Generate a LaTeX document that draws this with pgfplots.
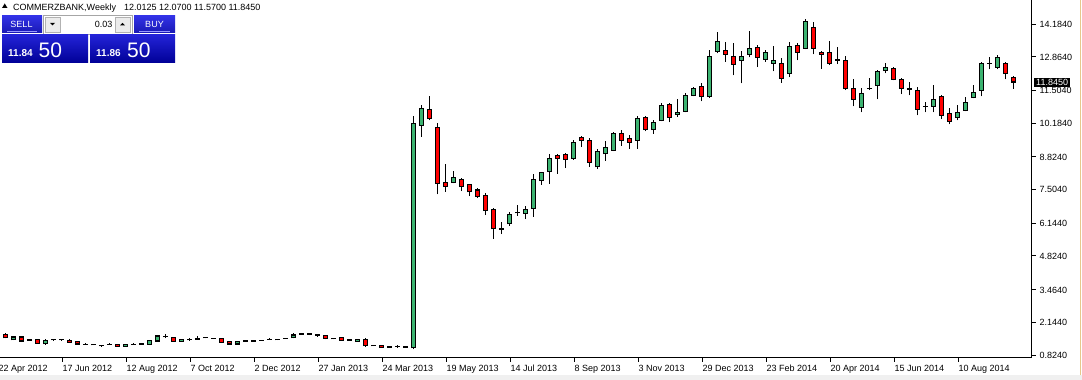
\documentclass[border=0pt]{standalone}
\usepackage{fontspec}
\setmainfont{Liberation Sans}
\usepackage{pgfplots}
\usepackage{pgfplotstable}
\pgfplotsset{compat=1.18}
\definecolor{cgreen}{RGB}{60,179,113}
\definecolor{cred}{RGB}{255,0,0}
\definecolor{btntop}{RGB}{50,50,230}
\definecolor{btnbot}{RGB}{25,25,180}
\definecolor{pantop}{RGB}{35,35,215}
\definecolor{panbot}{RGB}{0,0,150}
\definecolor{edge}{RGB}{230,200,140}

\pgfplotstableread{
j O H L C
-1 1.66 1.69 1.63 1.66
0 1.66 1.70 1.50 1.52
1 1.44 1.57 1.42 1.55
2 1.55 1.57 1.34 1.39
3 1.42 1.47 1.40 1.43
4 1.43 1.45 1.28 1.30
5 1.28 1.45 1.24 1.40
6 1.44 1.48 1.40 1.45
7 1.45 1.48 1.40 1.44
8 1.42 1.45 1.30 1.34
9 1.36 1.37 1.25 1.27
10 1.26 1.29 1.23 1.26
11 1.24 1.26 1.22 1.24
12 1.20 1.22 1.16 1.20
13 1.26 1.29 1.23 1.26
14 1.26 1.28 1.17 1.18
15 1.18 1.28 1.17 1.26
16 1.26 1.30 1.23 1.26
17 1.27 1.29 1.24 1.27
18 1.26 1.41 1.22 1.39
19 1.39 1.62 1.37 1.59
20 1.56 1.66 1.50 1.56
21 1.54 1.56 1.36 1.38
22 1.38 1.47 1.37 1.46
23 1.44 1.50 1.40 1.44
24 1.47 1.60 1.45 1.47
25 1.52 1.56 1.49 1.52
26 1.50 1.53 1.46 1.50
27 1.50 1.52 1.30 1.34
28 1.36 1.38 1.25 1.27
29 1.27 1.38 1.25 1.36
30 1.39 1.41 1.37 1.39
31 1.39 1.42 1.36 1.39
32 1.42 1.44 1.39 1.42
33 1.46 1.50 1.44 1.46
34 1.44 1.46 1.42 1.44
35 1.50 1.52 1.48 1.50
36 1.52 1.72 1.50 1.63
37 1.67 1.69 1.64 1.67
38 1.67 1.69 1.63 1.67
39 1.63 1.65 1.57 1.63
40 1.62 1.64 1.45 1.50
41 1.48 1.52 1.45 1.48
42 1.51 1.53 1.40 1.42
43 1.43 1.46 1.40 1.43
44 1.39 1.48 1.38 1.46
45 1.46 1.50 1.14 1.20
46 1.20 1.22 1.18 1.20
47 1.21 1.23 1.12 1.13
48 1.15 1.17 1.13 1.15
49 1.17 1.21 1.11 1.17
50 1.15 1.17 1.13 1.15
51 1.12 10.47 1.05 10.18
52 10.10 10.91 9.63 10.78
53 10.74 11.28 10.29 10.38
54 10.01 10.18 7.31 7.75
55 7.79 8.52 7.41 7.63
56 7.79 8.25 7.75 8.00
57 7.92 7.96 7.44 7.62
58 7.69 7.73 7.24 7.41
59 7.48 7.55 7.16 7.23
60 7.27 7.35 6.47 6.66
61 6.70 6.76 5.51 5.92
62 5.91 6.18 5.70 5.92
63 6.12 6.61 6.04 6.50
64 6.56 6.88 6.45 6.57
65 6.53 6.84 6.31 6.70
66 6.74 8.13 6.41 7.89
67 7.87 8.22 7.70 8.20
68 8.24 8.94 7.74 8.76
69 8.86 8.94 8.14 8.75
70 8.92 8.99 8.37 8.72
71 8.76 9.50 8.70 9.41
72 9.59 9.66 9.21 9.50
73 9.49 9.57 8.42 8.60
74 8.42 9.14 8.33 9.04
75 8.95 9.47 8.67 9.18
76 9.09 9.82 9.05 9.77
77 9.77 9.90 9.26 9.49
78 9.57 9.69 9.15 9.41
79 9.49 10.46 9.15 10.38
80 10.42 10.46 9.85 9.93
81 9.93 10.32 9.76 10.21
82 10.29 11.00 10.25 10.90
83 10.94 10.98 10.21 10.42
84 10.54 11.14 10.42 10.62
85 10.66 11.39 10.62 11.30
86 11.30 11.63 11.26 11.59
87 11.67 11.79 11.06 11.26
88 11.26 13.12 11.20 12.88
89 13.08 13.85 13.00 13.48
90 13.12 13.44 12.66 12.96
91 12.88 13.40 12.11 12.56
92 12.72 13.08 11.79 12.88
93 12.96 13.89 12.84 13.20
94 13.24 13.32 12.44 12.84
95 12.76 13.12 12.66 13.04
96 12.60 13.28 12.27 12.72
97 12.60 12.80 11.81 11.99
98 12.19 13.44 12.03 13.28
99 13.32 13.40 12.72 13.04
100 13.20 14.40 13.16 14.29
101 14.05 14.25 12.96 13.20
102 13.04 13.08 12.38 12.96
103 13.04 13.48 12.52 12.60
104 12.72 13.24 12.56 12.74
105 12.72 12.88 11.51 11.59
106 11.59 11.95 10.86 11.14
107 10.82 11.59 10.62 11.39
108 11.58 11.99 11.51 11.59
109 11.71 12.31 11.14 12.27
110 12.31 12.60 12.19 12.44
111 12.40 12.44 11.91 11.95
112 11.95 11.99 11.35 11.59
113 11.55 11.83 11.30 11.56
114 11.51 11.63 10.50 10.74
115 10.86 11.02 10.62 10.86
116 10.86 11.71 10.62 11.14
117 11.26 11.30 10.34 10.50
118 10.58 10.78 10.13 10.26
119 10.42 10.90 10.29 10.62
120 10.70 11.22 10.66 11.02
121 11.22 11.71 11.18 11.43
122 11.51 12.64 11.26 12.60
123 12.60 12.84 12.35 12.60
124 12.44 12.92 12.35 12.84
125 12.60 12.64 11.95 12.19
126 12.0125 12.07 11.57 11.845
}\ohlc

\begin{document}
\begin{tikzpicture}
\useasboundingbox (0pt,0pt) rectangle (1082pt,380pt);
\fill[white] (0pt,0pt) rectangle (1082pt,380pt);
\fill[gray!12] (0pt,0pt) rectangle (1082pt,4.5pt);
\draw[edge, line width=1pt] (1080.5pt,4.5pt) -- (1080.5pt,380pt);

\begin{axis}[
  at={(-10pt,22pt)}, anchor=south west,
  scale only axis, width=1042pt, height=358pt,
  xmin=-2, xmax=128.25, ymin=0.703, ymax=15.152,
  axis x line*=bottom, axis y line*=right,
  axis line style={black, line width=1pt},
  tick style={black, line width=0.8pt},
  major tick length=4pt,
  tick align=outside,
  xtick={-1,7,15,23,31,39,47,55,63,71,79,87,95,103,111,119},
  xticklabels={22 Apr 2012,17 Jun 2012,12 Aug 2012,7 Oct 2012,2 Dec 2012,27 Jan 2013,24 Mar 2013,19 May 2013,14 Jul 2013,8 Sep 2013,3 Nov 2013,29 Dec 2013,23 Feb 2014,20 Apr 2014,15 Jun 2014,10 Aug 2014},
  ytick={0.824,2.144,3.464,4.824,6.144,7.504,8.824,10.184,11.504,12.864,14.184},
  yticklabels={0.8240,2.1440,3.4640,4.8240,6.1440,7.5040,8.8240,10.1840,11.5040,12.8640,14.1840},
  xticklabel style={anchor=north west, inner sep=0pt, text height=7pt, text depth=2pt, font=\fontsize{9}{10}\selectfont, xshift=0.5pt, yshift=-2.5pt},
  yticklabel style={anchor=west, inner sep=0pt, text height=7pt, text depth=0pt, font=\fontsize{9}{10}\selectfont, xshift=3.5pt},
]
% wicks
\addplot[draw=none, mark=none, forget plot,
  error bars/.cd, y dir=plus, y explicit, error mark=none,
  error bar style={draw=black, line width=1pt}]
  table[x=j, y=L, y error expr={\thisrow{H}-\thisrow{L}}] {\ohlc};
% body outlines
\addplot[draw=none, mark=none, forget plot,
  error bars/.cd, y dir=plus, y explicit, error mark=none,
  error bar style={draw=black, line width=5pt}]
  table[x=j, y expr={min(\thisrow{O},\thisrow{C})-0.025}, y error expr={abs(\thisrow{C}-\thisrow{O})+0.05}] {\ohlc};
% bullish fill
\addplot[draw=none, mark=none, forget plot,
  x filter/.expression={\thisrow{C}-\thisrow{O}>0.045 ? x : nan},
  error bars/.cd, y dir=plus, y explicit, error mark=none,
  error bar style={draw=cgreen, line width=3pt}]
  table[x=j, y expr={\thisrow{O}+0.02}, y error expr={\thisrow{C}-\thisrow{O}-0.04}] {\ohlc};
% bearish fill
\addplot[draw=none, mark=none, forget plot,
  x filter/.expression={\thisrow{O}-\thisrow{C}>0.045 ? x : nan},
  error bars/.cd, y dir=plus, y explicit, error mark=none,
  error bar style={draw=cred, line width=3pt}]
  table[x=j, y expr={\thisrow{C}+0.02}, y error expr={\thisrow{O}-\thisrow{C}-0.04}] {\ohlc};
\end{axis}

% current price label
\node[fill=black, text=white, anchor=west, inner xsep=2pt, inner ysep=1.5pt, font=\fontsize{9}{10}\selectfont] at (1034pt,297.5pt) {11.8450};

% header
\fill (2pt,372pt) -- (7.5pt,372pt) -- (4.75pt,376.5pt) -- cycle;
\node[anchor=base west, inner sep=0pt, font=\fontsize{9}{10}\selectfont] at (13pt,369pt) {COMMERZBANK,Weekly};
\node[anchor=base west, inner sep=0pt, font=\fontsize{9}{10}\selectfont] at (124pt,369pt) {12.0125 12.0700 11.5700 11.8450};

% one click trading panel
\shade[top color=btntop, bottom color=btnbot] (2pt,347pt) rectangle (42pt,364pt);
\draw[blue!40!white, line width=0.8pt] (7pt,348.5pt) -- (37pt,348.5pt);
\node[white, font=\fontsize{9}{10}\selectfont] at (21.5pt,356pt) {SELL};
\draw[fill=white, draw=gray!70] (43pt,346pt) rectangle (132pt,365pt);
\draw[fill=gray!15, draw=gray!60] (45pt,348pt) rectangle (60pt,363pt);
\fill (50pt,357pt) -- (55pt,357pt) -- (52.5pt,354.5pt) -- cycle;
\draw[fill=gray!15, draw=gray!60] (115pt,348pt) rectangle (130pt,363pt);
\fill (120pt,354.5pt) -- (125pt,354.5pt) -- (122.5pt,357pt) -- cycle;
\node[anchor=base east, inner sep=0pt, font=\fontsize{9}{10}\selectfont] at (112.5pt,352pt) {0.03};
\shade[top color=btntop, bottom color=btnbot] (134pt,347pt) rectangle (175pt,364pt);
\draw[blue!40!white, line width=0.8pt] (139pt,348.5pt) -- (170pt,348.5pt);
\node[white, font=\fontsize{9}{10}\selectfont] at (154.5pt,356pt) {BUY};
\shade[top color=pantop, bottom color=panbot] (2pt,317pt) rectangle (88pt,345pt);
\shade[top color=pantop, bottom color=panbot] (90pt,317pt) rectangle (175pt,345pt);
\node[anchor=base west, inner sep=0pt, white, font=\bfseries\fontsize{10}{11}\selectfont] at (8pt,323pt) {11.84};
\node[anchor=base west, inner sep=0pt, white, font=\fontsize{21}{22}\selectfont] at (38.5pt,322.7pt) {50};
\node[anchor=base west, inner sep=0pt, white, font=\bfseries\fontsize{10}{11}\selectfont] at (96pt,323pt) {11.86};
\node[anchor=base west, inner sep=0pt, white, font=\fontsize{21}{22}\selectfont] at (127pt,322.7pt) {50};
\end{tikzpicture}
\end{document}
